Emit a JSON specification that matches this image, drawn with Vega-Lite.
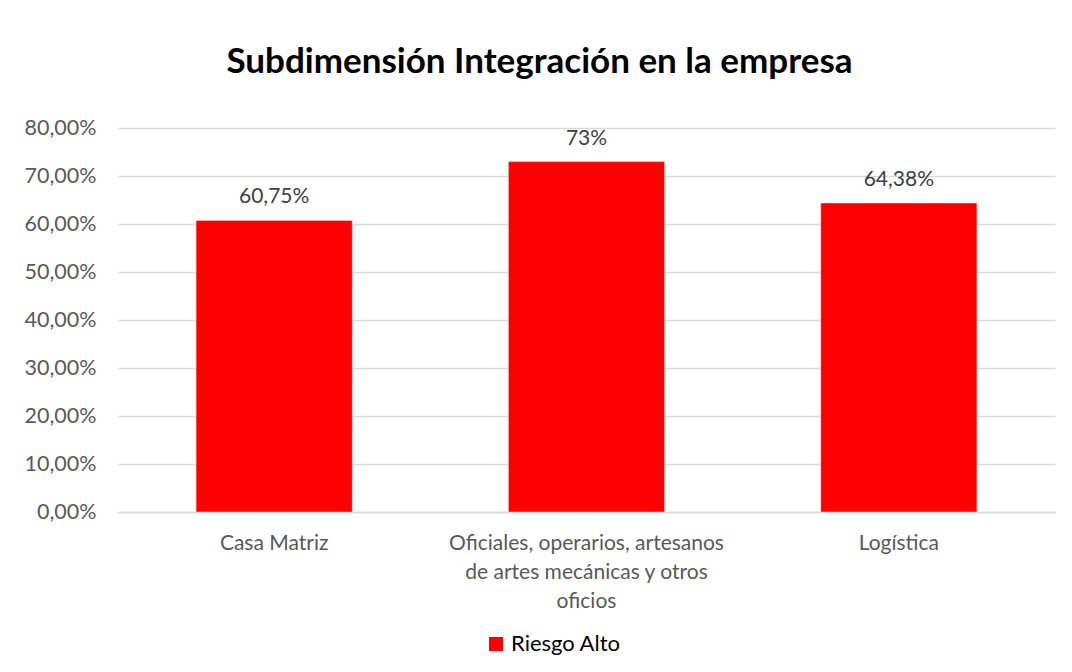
{
  "$schema": "https://vega.github.io/schema/vega-lite/v6.json",
  "width": 937,
  "height": 384,
  "autosize": {"type": "none"},
  "padding": {"left": 118, "top": 128, "right": 17, "bottom": 160},
  "background": "white",
  "title": {
    "text": "Subdimensión Integración en la empresa",
    "font": "Lato",
    "fontSize": 35,
    "fontWeight": "bold",
    "color": "#000000",
    "anchor": "middle",
    "frame": "bounds",
    "offset": 37
  },
  "data": {
    "values": [
      {"categoria": "Casa Matriz", "valor": 0.6075, "etiqueta": "60,75%", "serie": "Riesgo Alto"},
      {"categoria": "Oficiales, operarios, artesanos de artes mecánicas y otros oficios", "valor": 0.73, "etiqueta": "73%", "serie": "Riesgo Alto"},
      {"categoria": "Logística", "valor": 0.6438, "etiqueta": "64,38%", "serie": "Riesgo Alto"}
    ]
  },
  "config": {
    "view": {"stroke": null},
    "font": "Lato"
  },
  "encoding": {
    "x": {
      "field": "categoria",
      "type": "nominal",
      "sort": null,
      "title": null,
      "scale": {"paddingInner": 0.5, "paddingOuter": 0.25},
      "axis": {
        "labelAngle": 0,
        "labelFont": "Lato",
        "labelFontSize": 21,
        "labelColor": "#595959",
        "labelPadding": 20,
        "labelLineHeight": 29,
        "labelLimit": 400,
        "ticks": false,
        "domainColor": "#d9d9d9",
        "domainWidth": 1.5,
        "labelExpr": "datum.value == 'Oficiales, operarios, artesanos de artes mecánicas y otros oficios' ? ['Oficiales, operarios, artesanos', 'de artes mecánicas y otros', 'oficios'] : datum.value"
      }
    },
    "y": {
      "field": "valor",
      "type": "quantitative",
      "title": null,
      "scale": {"domain": [0, 0.8], "nice": false},
      "axis": {
        "values": [0, 0.1, 0.2, 0.3, 0.4, 0.5, 0.6, 0.7, 0.8],
        "labelExpr": "replace(format(datum.value, '.2%'), '.', ',')",
        "labelFont": "Lato",
        "labelFontSize": 21.5,
        "labelColor": "#595959",
        "labelPadding": 22,
        "ticks": false,
        "domain": false,
        "gridColor": "#d9d9d9",
        "gridWidth": 1.5
      }
    }
  },
  "layer": [
    {
      "mark": {"type": "bar", "stroke": "#e6e6e6", "strokeWidth": 0.5},
      "encoding": {
        "color": {
          "field": "serie",
          "type": "nominal",
          "title": null,
          "scale": {"range": ["#ff0000"]},
          "legend": {
            "orient": "none",
            "legendX": 367,
            "legendY": 505,
            "direction": "horizontal",
            "symbolType": "square",
            "symbolSize": 196,
            "symbolStrokeWidth": 0,
            "labelFont": "Lato",
            "labelFontSize": 22,
            "labelColor": "#000000",
            "labelOffset": 4
          }
        }
      }
    },
    {
      "mark": {"type": "text", "baseline": "bottom", "dy": -13, "font": "Lato", "fontSize": 21, "color": "#404040"},
      "encoding": {"text": {"field": "etiqueta"}}
    }
  ]
}
